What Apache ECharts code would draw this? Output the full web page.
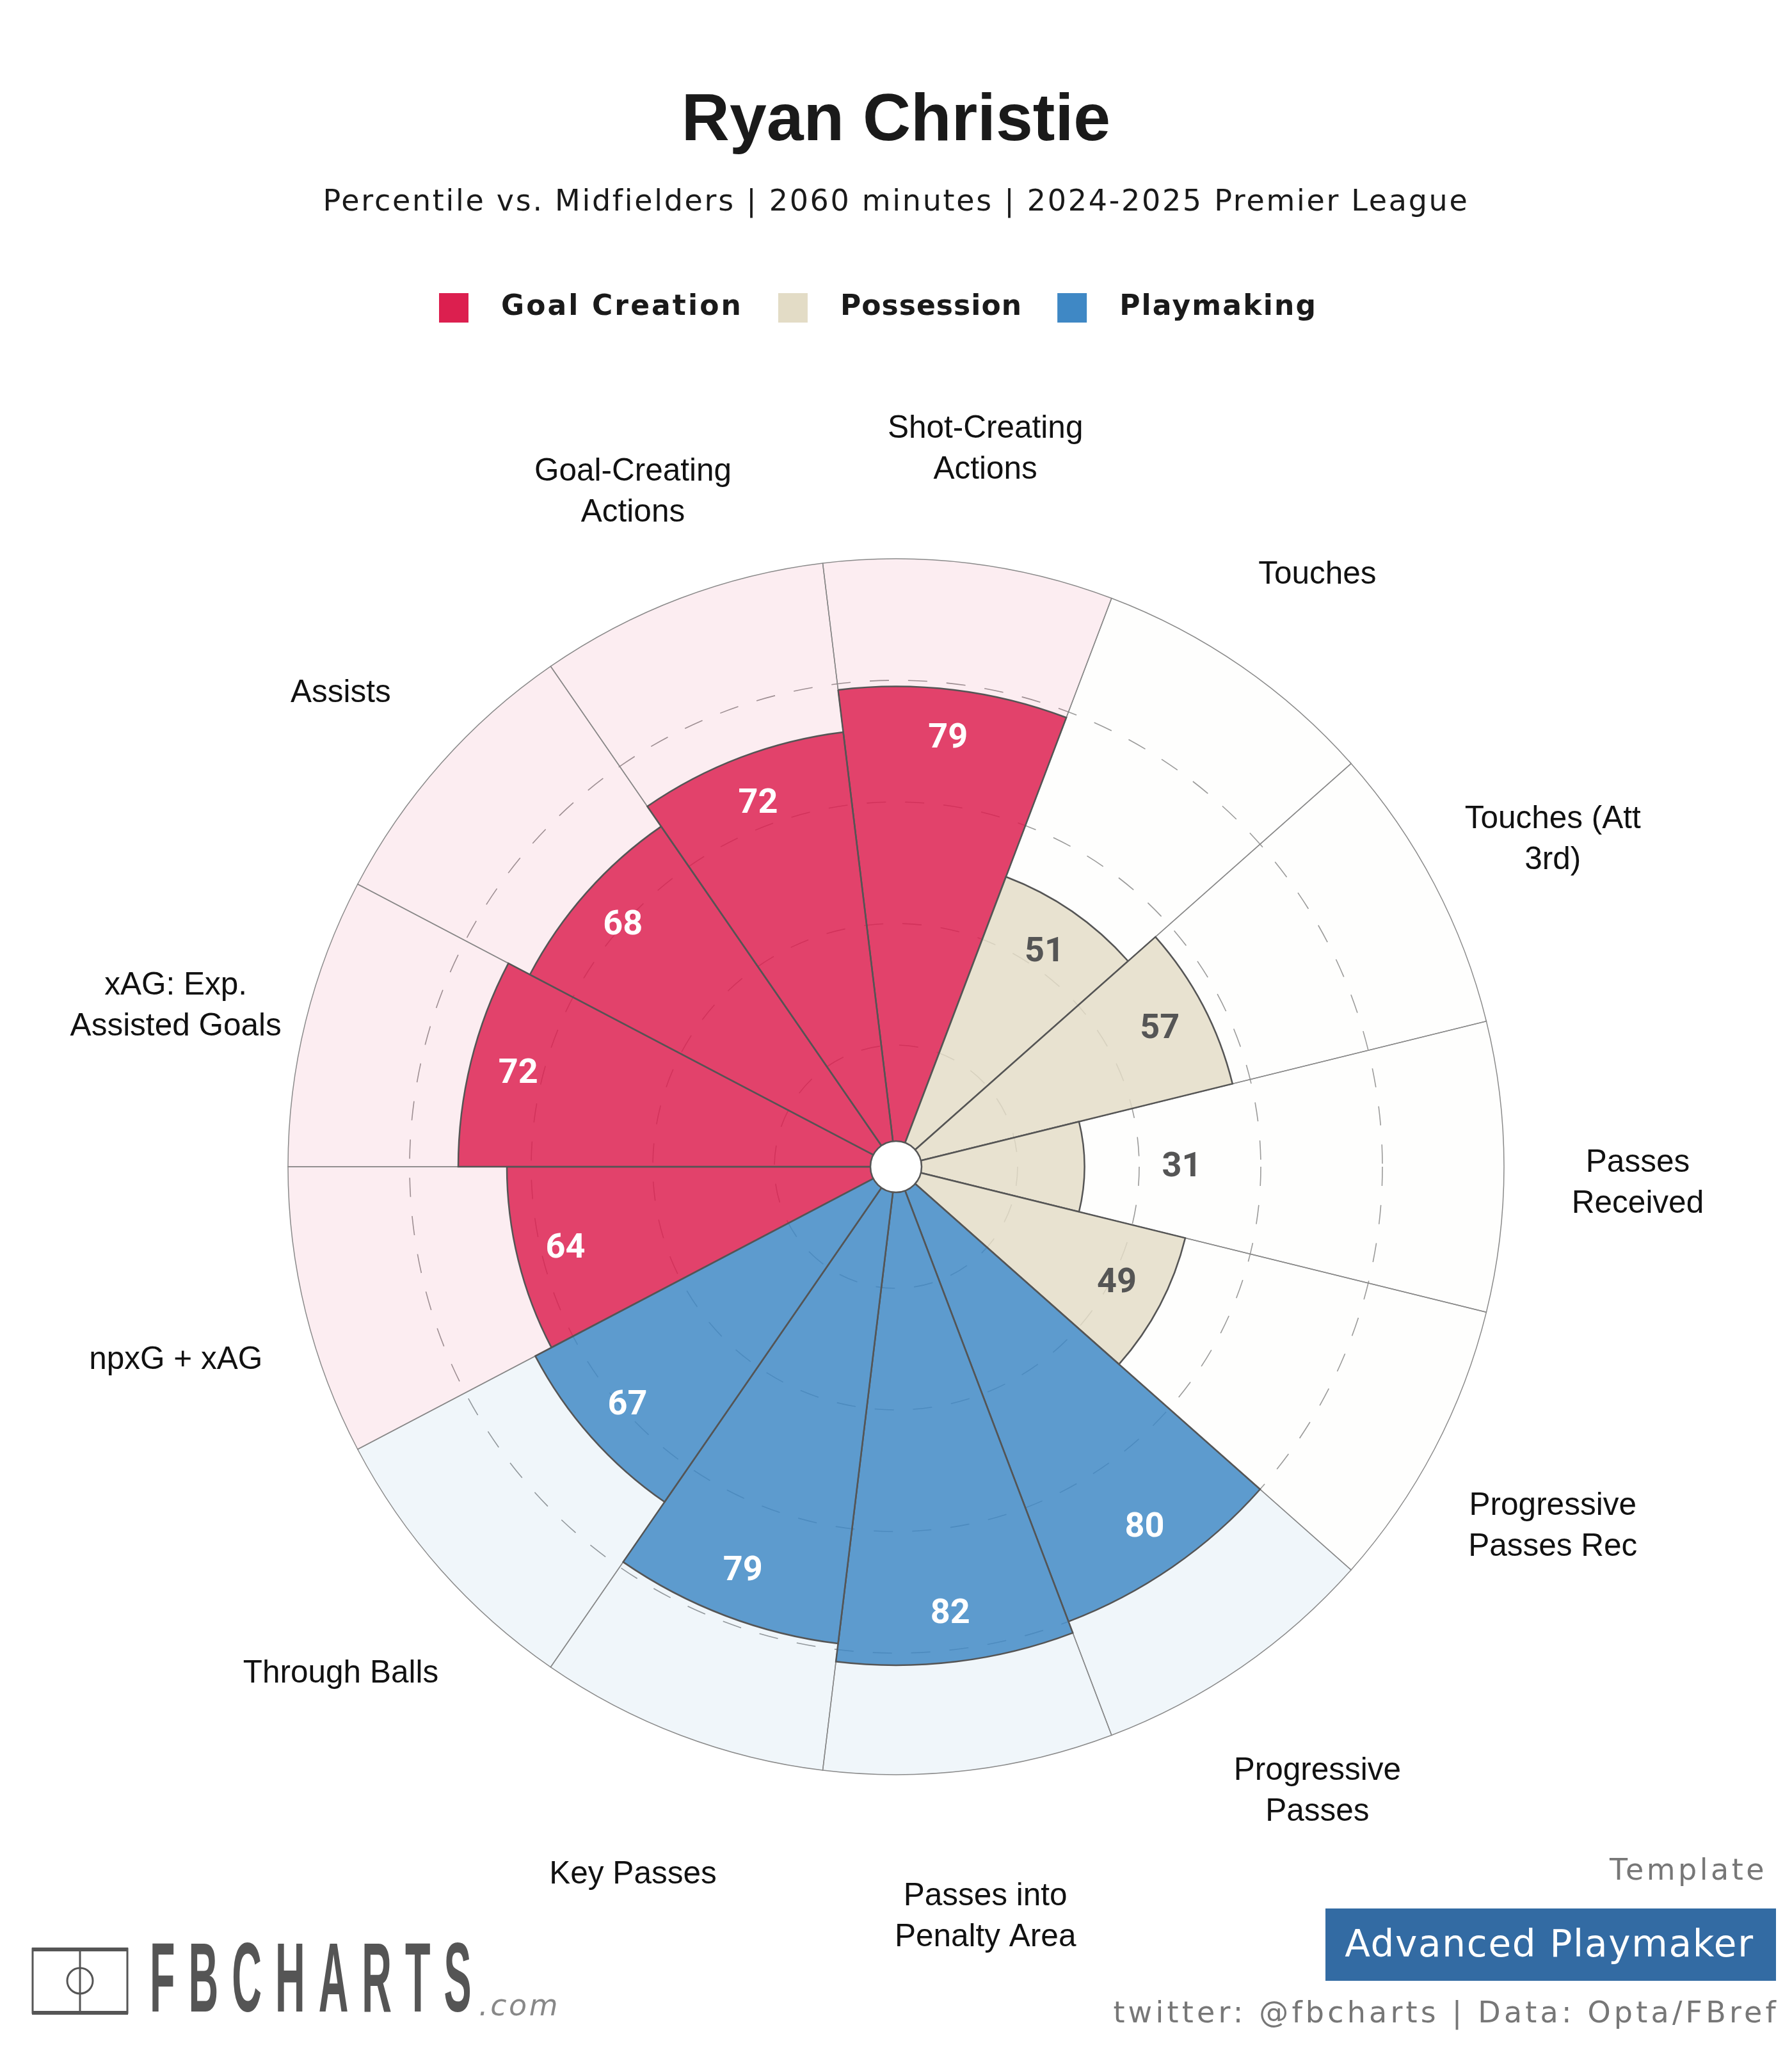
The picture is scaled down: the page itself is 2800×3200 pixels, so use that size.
<!DOCTYPE html>
<html><head><meta charset="utf-8">
<style>html,body{margin:0;padding:0;background:#fff}#c{width:2800px;height:3200px}</style>
<script src="https://cdn.jsdelivr.net/npm/echarts@6/dist/echarts.min.js"></script>
</head><body><div id="c"></div>
<script>
const categories = ["Shot-Creating\nActions","Touches","Touches (Att\n3rd)","Passes\nReceived","Progressive\nPasses Rec","Progressive\nPasses","Passes into\nPenalty Area","Key Passes","Through Balls","npxG + xAG","xAG: Exp.\nAssisted Goals","Assists","Goal-Creating\nActions"];
const values = [79,51,57,31,49,80,82,79,67,64,72,68,72];
const groupOf = ["Goal Creation","Possession","Possession","Possession","Possession","Playmaking","Playmaking","Playmaking","Playmaking","Goal Creation","Goal Creation","Goal Creation","Goal Creation"];
const groupNames = ["Goal Creation","Possession","Playmaking"];
const groupRGB = {"Goal Creation":"220,31,79","Possession":"227,220,198","Playmaking":"63,136,197"};
const groupBgAlpha = {"Goal Creation":0.08,"Possession":0.03,"Playmaking":0.08};
const valueTextColor = {"Goal Creation":"#ffffff","Possession":"#555555","Playmaking":"#ffffff"};
const radialTicks = 20;
const titleText = 'Ryan Christie';
const subtitleText = 'Percentile vs. Midfielders | 2060 minutes | 2024-2025 Premier League';

// per-string tracking, applied through the canvas letterSpacing property
const tracking = {[subtitleText]:2.7,'Goal Creation':3.1,'Possession':1.05,'Playmaking':2.2,'Template':4.5,
  'Advanced Playmaker':1.7,'twitter: @fbcharts | Data: Opta/FBref':5.2,'FBCHARTS':50,'.com':3.6};
['fillText','strokeText','measureText'].forEach(m=>{
  const orig = CanvasRenderingContext2D.prototype[m];
  CanvasRenderingContext2D.prototype[m] = function(t,...rest){
    this.letterSpacing = (tracking[t]||0)+'px';
    return orig.call(this,t,...rest);
  };
});

const n = categories.length;
const step = 360/n;
const startAngle = 90 + step/4;
const series = [];
series.push({type:'bar',coordinateSystem:'polar',name:'bg',barGap:'-100%',barCategoryGap:'0%',silent:true,
  data:categories.map((c,i)=>({value:100,itemStyle:{color:`rgba(${groupRGB[groupOf[i]]},${groupBgAlpha[groupOf[i]]})`}})),
  itemStyle:{borderColor:'#8a8a8a',borderWidth:1.5},z:2});
groupNames.forEach(g=>{
  series.push({type:'bar',coordinateSystem:'polar',name:g,barGap:'-100%',barCategoryGap:'0%',silent:true,
    data:values.map((v,i)=>groupOf[i]===g?v:null),
    itemStyle:{color:`rgba(${groupRGB[g]},0.83)`,borderColor:'#555',borderWidth:2.5},z:3});
});
series.push({type:'scatter',coordinateSystem:'polar',name:'values',clip:false,symbolSize:1,silent:true,z:6,
  itemStyle:{color:'rgba(0,0,0,0)',opacity:1},
  data:values.map((v,i)=>({value:[v<35?v+16:v-8,i,v],
    label:{show:true,position:'inside',offset:[0,1.5],formatter:String(v),color:valueTextColor[groupOf[i]],opacity:1,
      fontFamily:'Roboto',fontWeight:'bold',fontSize:54}}))});
series.push({type:'scatter',coordinateSystem:'polar',name:'labels',clip:false,symbolSize:1,silent:true,z:6,
  itemStyle:{color:'rgba(0,0,0,0)',opacity:1},
  data:categories.map((c,i)=>({value:[122,i],
    label:{show:true,position:'inside',offset:[0,26+4*Math.cos((i+0.25)*step*Math.PI/180)],formatter:c,color:'#111',opacity:1,align:'center',verticalAlign:'middle',
      fontFamily:'Liberation Sans',fontSize:49.5,lineHeight:64}}))});
series.push({type:'scatter',coordinateSystem:'polar',name:'hub',clip:false,symbolSize:80,silent:true,z:7,
  itemStyle:{color:'#fff',borderColor:'#555',borderWidth:2.5,opacity:1},data:[[0,0]]});

const chart = echarts.init(document.getElementById('c'),null,{renderer:'canvas',width:2800,height:3200});
chart.setOption({
  animation:false,backgroundColor:'#fff',
  title:[
    {text:titleText,left:'center',top:133,textStyle:{fontFamily:'Liberation Sans',fontWeight:'bold',fontSize:104,color:'#1a1a1a'}},
    {text:subtitleText,left:'center',top:289,textStyle:{fontFamily:'DejaVu Sans',fontWeight:'normal',fontSize:46,color:'#1a1a1a'}}
  ],
  legend:{left:686,top:458,padding:0,itemWidth:46,itemHeight:46,itemGap:55,icon:'rect',selectedMode:false,
    data:groupNames.map(g=>({name:g,itemStyle:{color:`rgb(${groupRGB[g]})`,borderWidth:0}})),
    textStyle:{fontFamily:'DejaVu Sans',fontWeight:'bold',fontSize:44,color:'#1a1a1a',padding:[0,0,0,46]}},
  polar:{center:[1400,1823],radius:1330},
  angleAxis:{type:'category',data:categories,startAngle:startAngle,boundaryGap:true,clockwise:true,
    axisLine:{show:false},axisTick:{show:false},axisLabel:{show:false},splitLine:{show:false}},
  radiusAxis:{type:'value',min:0,max:140,interval:radialTicks,axisLine:{show:false},axisTick:{show:false},axisLabel:{show:false},
    splitLine:{show:true,lineStyle:{color:['transparent','#999','#999','#999','#999','transparent','transparent','transparent'],width:1.6,type:[30,30]}}},
  series:series,
  graphic:[
    {type:'text',x:2761,y:2925,style:{text:'Template',align:'right',verticalAlign:'middle',fontFamily:'DejaVu Sans',fontSize:46,fill:'#777'}},
    {type:'rect',shape:{x:2071,y:2982,width:704,height:113},style:{fill:'#336ba3'}},
    {type:'text',x:2421,y:3042,style:{text:'Advanced Playmaker',align:'center',verticalAlign:'middle',fontFamily:'DejaVu Sans',fontSize:58,fill:'#fff'}},
    {type:'text',x:2780,y:3148,style:{text:'twitter: @fbcharts | Data: Opta/FBref',align:'right',verticalAlign:'middle',fontFamily:'DejaVu Sans',fontSize:46,fill:'#777'}},
    {type:'group',children:[
      {type:'rect',shape:{x:51,y:3045,width:148,height:100},style:{fill:'none',stroke:'#555',lineWidth:3}},
      {type:'line',shape:{x1:50,y1:3046,x2:200,y2:3046},style:{stroke:'#555',lineWidth:6}},
      {type:'line',shape:{x1:50,y1:3145,x2:200,y2:3145},style:{stroke:'#555',lineWidth:6}},
      {type:'line',shape:{x1:125,y1:3045,x2:125,y2:3145},style:{stroke:'#555',lineWidth:3}},
      {type:'circle',shape:{cx:125,cy:3095,r:20},style:{fill:'none',stroke:'#555',lineWidth:3}}
    ]},
    {type:'text',x:234,y:3101,scaleX:0.42,style:{text:'FBCHARTS',verticalAlign:'middle',fontFamily:'Liberation Sans',fontWeight:'bold',fontSize:154,fill:'#555'}},
    {type:'text',x:748,y:3137,style:{text:'.com',verticalAlign:'middle',fontFamily:'DejaVu Sans',fontStyle:'italic',fontSize:46,fill:'#888'}}
  ]
});
</script></body></html>
